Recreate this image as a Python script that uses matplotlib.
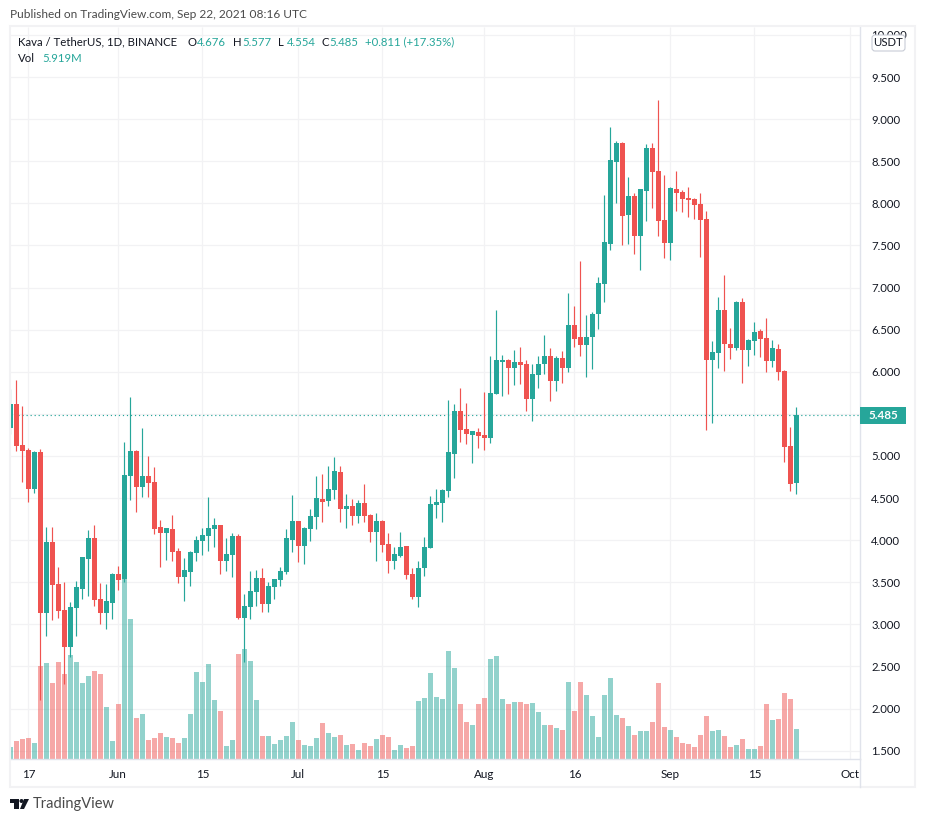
import matplotlib
matplotlib.use('Agg')
from matplotlib import pyplot as plt
from matplotlib.patches import Rectangle, Polygon, Circle, FancyBboxPatch
import numpy as np
import pandas as pd

W, H = 926, 822
TEAL = '#26a69a'
RED = '#ef5350'
GRID = '#f2f2f4'
BORDER = '#e0e3eb'
DARK = '#131722'
GREY = '#4a4a4a'

plt.rcParams['font.family'] = ['Lato', 'DejaVu Sans']

# daily KAVA/USDT candles, 2021-05-14 to 2021-09-22
dates = pd.date_range('2021-05-14', '2021-09-22')

opens = [5.332, 5.617, 5.130, 5.071, 4.608, 5.047, 3.135, 3.978, 3.479, 3.170,
         2.731, 3.194, 3.420, 3.776, 4.026, 3.301, 3.135, 3.254, 3.598, 3.539,
         4.762, 5.059, 4.631, 4.762, 4.691, 4.156, 4.085, 4.133, 3.871, 3.562,
         3.622, 3.848, 3.990, 4.049, 4.133, 4.180, 3.752, 3.824, 4.050, 3.076,
         3.206, 3.385, 3.551, 3.242, 3.444, 3.527, 3.622, 4.002, 4.228, 3.931,
         4.133, 4.275, 4.489, 4.465, 4.596, 4.810, 4.370, 4.406, 4.287, 4.442,
         4.299, 4.097, 4.228, 3.955, 3.753, 3.812, 3.931, 3.598, 3.325, 3.670,
         3.907, 4.418, 4.442, 4.584, 5.024, 5.534, 5.321, 5.249, 5.285, 5.249,
         5.214, 5.736, 6.116, 6.140, 6.045, 6.116, 6.093, 5.677, 5.962, 6.093,
         6.188, 5.891, 6.164, 6.045, 6.556, 6.413, 6.318, 6.413, 6.686, 7.043,
         7.518, 8.492, 8.717, 7.862, 8.088, 7.613, 8.147, 8.658, 8.385, 7.803,
         7.530, 8.171, 8.135, 8.064, 8.052, 7.993, 7.815, 6.140, 6.223, 6.734,
         6.330, 6.283, 6.829, 6.259, 6.366, 6.485, 6.401, 6.128, 6.271, 6.009,
         5.119, 4.676]
highs = [5.795, 5.902, 5.593, 5.095, 5.059, 5.083, 4.156, 4.156, 3.681, 3.503,
         3.265, 3.515, 3.800, 4.121, 4.180, 3.491, 3.479, 3.610, 3.693, 5.166,
         5.700, 5.071, 5.332, 5.000, 4.869, 4.239, 4.144, 4.299, 3.907, 3.788,
         3.871, 4.049, 4.144, 4.513, 4.263, 4.180, 4.026, 4.085, 4.073, 3.361,
         3.634, 3.646, 3.670, 3.503, 3.539, 3.682, 4.133, 4.537, 4.228, 4.157,
         4.370, 4.762, 4.786, 4.881, 4.988, 4.881, 4.549, 4.489, 4.477, 4.667,
         4.311, 4.323, 4.240, 4.085, 3.919, 4.097, 3.931, 3.670, 3.753, 4.038,
         4.525, 4.608, 4.608, 5.665, 5.617, 5.808, 5.629, 5.297, 5.332, 5.760,
         6.188, 6.734, 6.200, 6.152, 6.259, 6.294, 6.140, 6.093, 6.188, 6.437,
         6.283, 6.188, 6.247, 6.936, 6.781, 7.316, 6.675, 6.710, 7.126, 8.100,
         8.907, 8.741, 8.729, 8.314, 8.123, 8.171, 8.705, 8.717, 9.228, 8.337,
         8.195, 8.385, 8.159, 8.195, 8.064, 8.123, 7.910, 6.366, 6.888, 7.150,
         6.520, 6.841, 6.877, 6.390, 6.591, 6.508, 6.639, 6.378, 6.330, 6.021,
         5.344, 5.577]
lows = [5.261, 5.059, 4.691, 4.453, 4.560, 2.102, 2.862, 3.052, 3.075, 2.292,
        2.612, 2.862, 3.301, 3.337, 3.218, 3.004, 2.945, 3.064, 3.408, 3.503,
        4.477, 4.334, 4.513, 4.513, 4.073, 3.681, 3.764, 3.752, 3.491, 3.277,
        3.456, 3.752, 3.824, 3.871, 3.919, 3.598, 3.634, 3.563, 3.064, 2.557,
        3.064, 3.218, 3.147, 3.147, 3.301, 3.456, 3.598, 3.860, 3.741, 3.717,
        3.990, 4.133, 4.216, 4.406, 4.489, 4.216, 4.145, 4.180, 4.204, 4.216,
        3.978, 3.753, 3.860, 3.610, 3.658, 3.800, 3.539, 3.301, 3.206, 3.575,
        3.907, 4.264, 4.216, 4.513, 4.739, 5.166, 5.142, 4.917, 5.095, 5.071,
        5.154, 5.736, 5.713, 5.736, 5.843, 5.855, 5.534, 5.416, 5.808, 5.974,
        5.653, 5.772, 5.867, 5.998, 6.294, 6.188, 5.938, 6.033, 6.508, 6.829,
        7.446, 8.005, 7.506, 7.518, 7.399, 7.209, 7.791, 7.945, 7.613, 7.351,
        7.328, 7.910, 7.898, 7.838, 7.815, 7.363, 5.309, 5.392, 6.045, 6.009,
        6.152, 6.259, 5.867, 6.069, 6.200, 6.176, 5.998, 6.057, 5.903, 4.929,
        4.584, 4.554]
closes = [5.617, 5.118, 5.059, 4.608, 5.047, 3.135, 3.978, 3.467, 3.159, 2.731,
          3.206, 3.444, 3.800, 4.026, 3.289, 3.135, 3.277, 3.598, 3.527, 4.774,
          5.059, 4.631, 4.762, 4.679, 4.133, 4.085, 4.144, 3.859, 3.562, 3.646,
          3.859, 4.002, 4.061, 4.144, 4.180, 3.752, 3.836, 4.050, 3.076, 3.218,
          3.396, 3.551, 3.242, 3.456, 3.539, 3.634, 4.026, 4.228, 3.931, 4.145,
          4.287, 4.501, 4.454, 4.608, 4.822, 4.370, 4.406, 4.287, 4.442, 4.287,
          4.097, 4.228, 3.943, 3.753, 3.836, 3.919, 3.586, 3.325, 3.670, 3.919,
          4.430, 4.454, 4.596, 5.047, 5.534, 5.309, 5.261, 5.297, 5.238, 5.214,
          5.748, 6.140, 6.140, 6.045, 6.116, 6.081, 5.677, 5.974, 6.093, 6.188,
          5.891, 6.164, 6.045, 6.556, 6.389, 6.318, 6.413, 6.686, 7.055, 7.541,
          8.515, 8.717, 7.850, 8.088, 7.613, 8.171, 8.658, 8.373, 7.791, 7.530,
          8.183, 8.123, 8.052, 8.040, 7.981, 7.803, 6.140, 6.235, 6.734, 6.330,
          6.283, 6.829, 6.259, 6.378, 6.473, 6.390, 6.128, 6.283, 5.998, 5.107,
          4.667, 5.485]

# volume in millions
volumes = [2.37, 3.55, 3.95, 4.14, 3.16, 18.35, 18.94, 15.00, 19.14, 16.77,
           20.52, 19.14, 15.00, 16.38, 17.36, 16.77, 10.26, 3.55, 10.85, 35.50,
           27.62, 8.09, 8.88, 3.75, 4.14, 5.13, 4.34, 4.14, 3.16, 4.14,
           8.88, 17.17, 15.19, 18.74, 11.64, 9.47, 2.57, 3.75, 20.72, 21.70,
           19.34, 11.64, 4.54, 4.54, 2.96, 3.75, 4.54, 7.30, 3.75, 2.76,
           2.57, 4.14, 7.10, 5.13, 4.34, 4.74, 2.76, 2.96, 1.78, 3.16,
           2.57, 3.95, 4.74, 4.34, 1.78, 2.76, 2.17, 2.57, 11.44, 12.04,
           16.97, 12.23, 11.84, 21.31, 17.96, 10.85, 7.30, 6.71, 10.85, 12.04,
           19.73, 20.32, 11.84, 10.85, 11.25, 11.25, 10.85, 11.05, 9.27, 6.71,
           6.71, 6.12, 5.72, 15.19, 9.47, 15.19, 12.63, 8.48, 4.34, 12.63,
           15.98, 8.68, 8.09, 6.51, 4.74, 5.52, 5.52, 7.30, 15.00, 6.31,
           5.72, 4.34, 3.16, 2.96, 2.37, 4.74, 8.48, 5.52, 5.72, 4.54,
           2.37, 2.76, 3.95, 1.97, 1.97, 2.57, 10.85, 7.70, 7.89, 13.02,
           11.84, 5.92]

price_ticks = [1.5, 2.0, 2.5, 3.0, 3.5, 4.0, 4.5, 5.0, 5.5, 6.0, 6.5, 7.0, 7.5,
               8.0, 8.5, 9.0, 9.5, 10.0]
time_ticks = ['2021-05-17', '2021-06-01', '2021-06-15', '2021-07-01', '2021-07-15',
              '2021-08-01', '2021-08-16', '2021-09-01', '2021-09-15', '2021-10-01']
time_labels = ['17', 'Jun', '15', 'Jul', '15', 'Aug', '16', 'Sep', '15', 'Oct']


def box(left, top, right, bottom):
    # pixel box (y down) to figure fractions for add_axes
    return [left / W, 1 - bottom / H, (right - left) / W, (bottom - top) / H]


def fx(x):
    return x / W


def fy(y):
    return 1 - y / H


def label(x, y, s, color=DARK, size=8.2, **kw):
    fig.text(fx(x), fy(y), s, color=color, fontsize=size, va='center', **kw)


fig = plt.figure(figsize=(W / 100, H / 100), dpi=100, facecolor='white')

x = np.arange(len(dates))
o = np.array(opens)
h = np.array(highs)
l = np.array(lows)
c = np.array(closes)
up = c >= o
colors = [TEAL if u else RED for u in up]
tick_x = [(pd.Timestamp(t) - dates[0]).days for t in time_ticks]
xlim = (-0.05, 141.6)

# volume pane sits under the candles and carries the grid
ax_vol = fig.add_axes(box(10, 27, 860, 759), zorder=1)
ax = fig.add_axes(box(10, 27, 860, 759), zorder=2)
ax.patch.set_visible(False)

ax.set_xlim(*xlim)
ax.set_ylim(1.401, 10.095)
ax_vol.set_xlim(*xlim)
ax_vol.set_ylim(0, 144.4)

ax_vol.hlines(price_ticks, 0, 1, transform=ax.get_yaxis_transform(), color=GRID,
              lw=0.9, zorder=0)
ax_vol.vlines(tick_x, 0, 1, transform=ax_vol.get_xaxis_transform(), color=GRID,
              lw=0.9, zorder=0)
ax_vol.bar(x, volumes, width=0.8, color=colors, alpha=0.5, zorder=2)
ax_vol.set_xticks([])
ax_vol.set_yticks([])
for s in ax_vol.spines.values():
    s.set_visible(False)

ax.vlines(x, l, h, color=colors, lw=0.85, zorder=3)
ax.bar(x, np.abs(c - o), bottom=np.minimum(o, c), width=0.8, color=colors, zorder=4)
ax.axhline(closes[-1], color=TEAL, lw=0.85, ls=(0, (1, 2.4)), zorder=2)

ax.yaxis.tick_right()
ax.set_yticks(price_ticks)
# the 5.500 label is hidden behind the last price tag on the chart
ax.set_yticklabels(['' if t == 5.5 else '%.3f' % t for t in price_ticks])
ax.set_xticks(tick_x)
ax.set_xticklabels(time_labels)
ax.tick_params(axis='y', length=0, pad=8, labelsize=8.2, labelcolor=DARK)
ax.tick_params(axis='x', length=0, pad=7, labelsize=8.4, labelcolor=DARK)
for s in ['top', 'left']:
    ax.spines[s].set_visible(False)
for s in ['right', 'bottom']:
    ax.spines[s].set_color(BORDER)
    ax.spines[s].set_linewidth(1.0)

# last price tag on the axis
ax.add_patch(Rectangle((1.0, closes[-1] - 0.1), 46 / 850, 0.2,
                       transform=ax.get_yaxis_transform(), clip_on=False,
                       facecolor=TEAL, edgecolor='none', zorder=5))
ax.text(1.0 + 23 / 850, closes[-1], '%.3f' % closes[-1], transform=ax.get_yaxis_transform(),
        color='white', fontsize=8.4, fontweight='bold', ha='center', va='center',
        clip_on=False, zorder=6)

# outer frame and the axis line running down to it
fig.add_artist(Rectangle((fx(10), fy(787)), (915 - 10) / W, (787 - 26) / H,
                         transform=fig.transFigure, fill=False, edgecolor=GRID,
                         lw=1.5, zorder=8))
fig.add_artist(plt.Line2D([fx(860), fx(860)], [fy(759), fy(787)], color=BORDER, lw=1.0, zorder=8))

# currency badge, hides the lower part of the 10.000 label
fig.add_artist(FancyBboxPatch((872, H - 51), 33, 16, boxstyle='round,pad=0,rounding_size=3',
                              transform=None, facecolor='white', edgecolor='#c8ccd6',
                              lw=0.8, zorder=9))
label(888.5, 43, 'USDT', ha='center', zorder=10)

label(10, 14, 'Published on TradingView.com, Sep 22, 2021 08:16 UTC', color=GREY, size=8.55, zorder=10)

# legend line
label(18, 42, 'Kava / TetherUS, 1D, BINANCE', zorder=10)
for lx, vx, name, val in [(188, 197, 'O', opens[-1]), (233, 242, 'H', highs[-1]),
                          (278, 287, 'L', lows[-1]), (321, 329, 'C', closes[-1])]:
    label(lx, 42, name, zorder=10)
    label(vx, 42, '%.3f' % val, color=TEAL, zorder=10)
label(365, 42, '+0.811 (+17.35%)', color=TEAL, zorder=10)
label(18, 59, 'Vol', zorder=10)
label(42, 59, '%.3fM' % 5.919, color=TEAL, zorder=10)

# TradingView logo
logo_t = [(10, 799), (19, 799), (19, 809), (14, 809), (14, 803), (10, 803)]
logo_v = [(24, 799), (29, 799), (24, 809), (20, 809)]
for pts in (logo_t, logo_v):
    fig.add_artist(Polygon([(fx(a), fy(b)) for a, b in pts], closed=True,
                           transform=fig.transFigure, facecolor=DARK, edgecolor='none'))
fig.add_artist(Circle((21.5, H - 801), 2.0, transform=None, facecolor=DARK, edgecolor='none'))
label(33, 804, 'TradingView', color=GREY, size=10.5)

fig.savefig('out.png', dpi=100, facecolor='white')
